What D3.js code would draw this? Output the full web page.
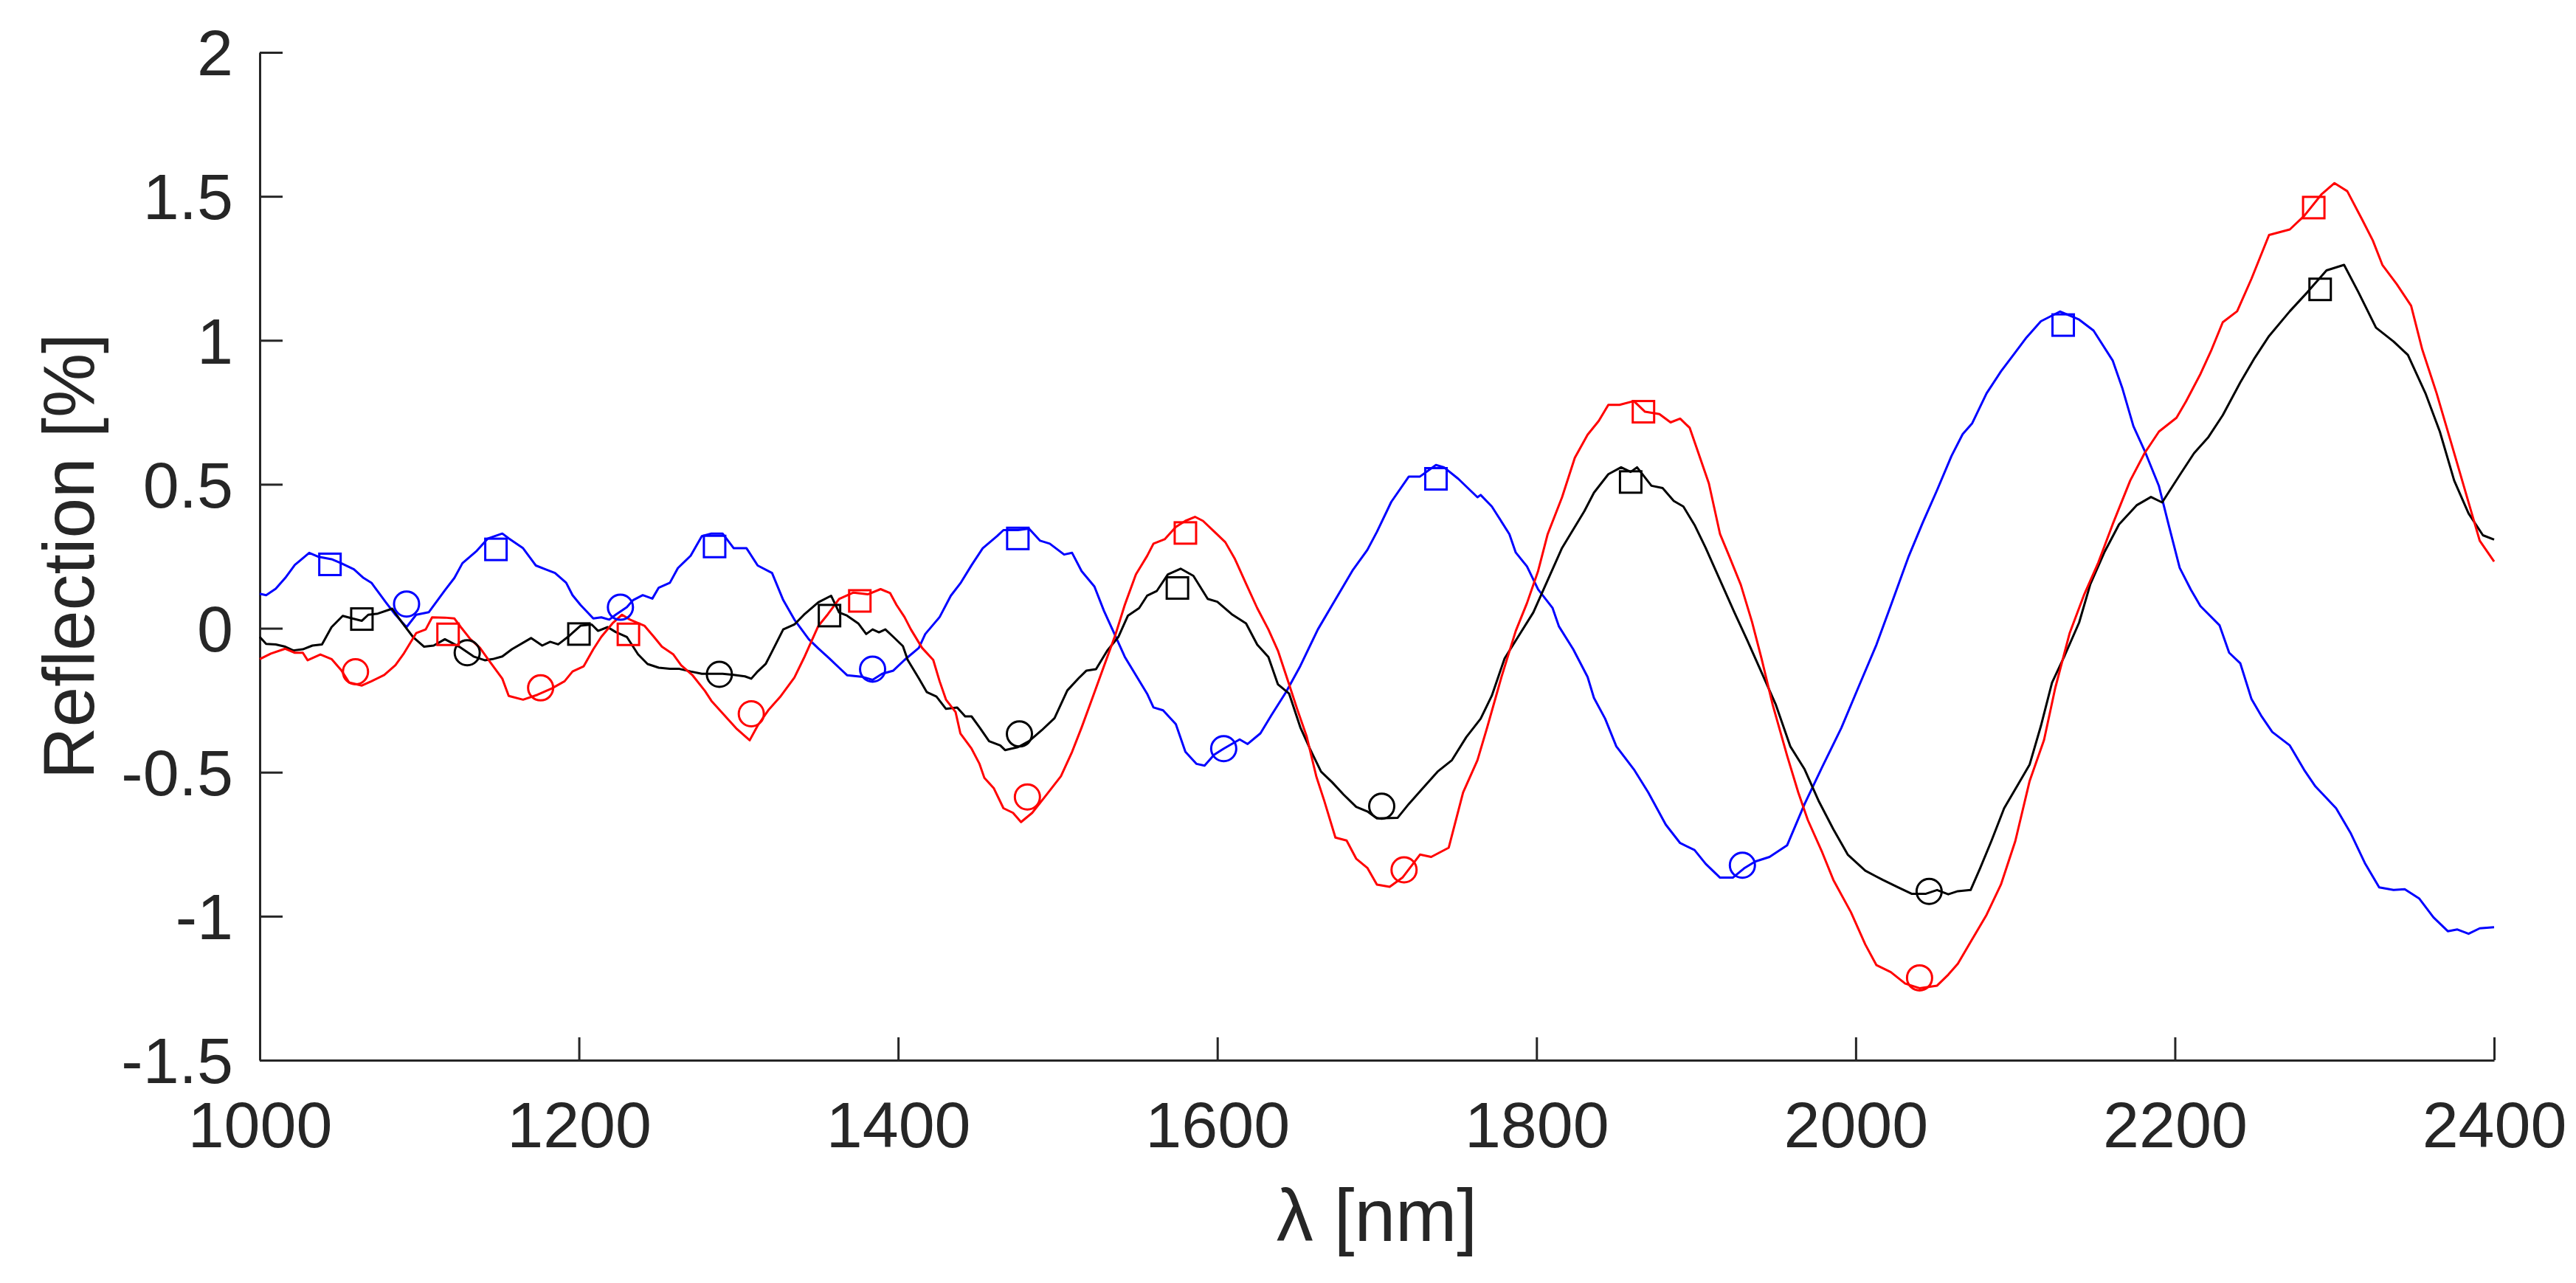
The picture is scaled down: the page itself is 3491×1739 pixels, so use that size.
<!DOCTYPE html>
<html>
<head>
<meta charset="utf-8">
<script src="https://cdn.jsdelivr.net/npm/d3@7"></script>
<style>
  html, body { margin: 0; padding: 0; background: #fff; }
  text { font-family: "Liberation Sans", Arial, sans-serif; fill: #262626; }
</style>
</head>
<body>
<script>
// tick values
var xTicks = [1000, 1200, 1400, 1600, 1800, 2000, 2200, 2400];
var yTicks = [-1.5, -1, -0.5, 0, 0.5, 1, 1.5, 2];

// curves: [wavelength nm, reflection %]
var blueLine = [[1000,0.12],[1004,0.115],[1010,0.137],[1016,0.175],[1022,0.22],[1031,0.262],[1037,0.248],[1045,0.24],[1051,0.226],[1059,0.205],[1065,0.175],[1070,0.158],[1075,0.12],[1079,0.09],[1085,0.047],[1092,0.004],[1098,0.047],[1106,0.056],[1116,0.132],[1122,0.175],[1127,0.226],[1136,0.269],[1143,0.312],[1152,0.329],[1156,0.312],[1165,0.278],[1173,0.218],[1179,0.205],[1185,0.192],[1192,0.158],[1196,0.115],[1201,0.081],[1209,0.034],[1214,0.038],[1219,0.03],[1223,0.047],[1230,0.073],[1234,0.098],[1240,0.115],[1246,0.103],[1250,0.141],[1257,0.158],[1262,0.209],[1270,0.252],[1277,0.32],[1283,0.329],[1290,0.329],[1297,0.278],[1305,0.278],[1312,0.218],[1321,0.192],[1328,0.098],[1335,0.03],[1344,-0.038],[1350,-0.07],[1357,-0.105],[1363,-0.137],[1368,-0.163],[1377,-0.168],[1384,-0.179],[1390,-0.158],[1397,-0.147],[1404,-0.11],[1413,-0.068],[1417,-0.02],[1426,0.039],[1433,0.113],[1439,0.156],[1446,0.219],[1453,0.278],[1462,0.32],[1466,0.341],[1475,0.341],[1482,0.346],[1489,0.304],[1495,0.294],[1504,0.256],[1509,0.262],[1515,0.198],[1523,0.145],[1529,0.06],[1536,-0.025],[1542,-0.099],[1549,-0.163],[1556,-0.227],[1560,-0.275],[1566,-0.285],[1574,-0.333],[1580,-0.429],[1587,-0.471],[1592,-0.477],[1598,-0.439],[1604,-0.418],[1614,-0.386],[1619,-0.402],[1627,-0.365],[1634,-0.301],[1643,-0.222],[1652,-0.131],[1663,-0.004],[1672,0.081],[1685,0.203],[1694,0.272],[1700,0.335],[1709,0.439],[1720,0.527],[1727,0.527],[1737,0.567],[1742,0.559],[1751,0.519],[1763,0.455],[1765,0.463],[1772,0.423],[1783,0.327],[1787,0.263],[1794,0.215],[1801,0.135],[1810,0.071],[1814,0.007],[1823,-0.073],[1832,-0.169],[1836,-0.242],[1843,-0.314],[1850,-0.41],[1861,-0.49],[1870,-0.57],[1881,-0.682],[1890,-0.746],[1899,-0.77],[1906,-0.818],[1915,-0.866],[1923,-0.866],[1930,-0.834],[1937,-0.81],[1946,-0.794],[1957,-0.754],[1968,-0.61],[1979,-0.482],[1991,-0.346],[2002,-0.201],[2013,-0.057],[2022,0.079],[2033,0.247],[2042,0.367],[2051,0.48],[2060,0.598],[2067,0.674],[2073,0.712],[2082,0.816],[2091,0.892],[2100,0.958],[2107,1.01],[2116,1.066],[2128,1.1],[2140,1.072],[2149,1.034],[2161,0.93],[2167,0.835],[2174,0.702],[2181,0.617],[2190,0.494],[2196,0.361],[2203,0.21],[2210,0.134],[2216,0.077],[2228,0.01],[2234,-0.085],[2241,-0.122],[2248,-0.246],[2254,-0.303],[2261,-0.36],[2272,-0.407],[2281,-0.492],[2288,-0.549],[2301,-0.625],[2310,-0.71],[2319,-0.815],[2328,-0.9],[2337,-0.909],[2344,-0.906],[2353,-0.938],[2362,-1.004],[2371,-1.052],[2377,-1.046],[2384,-1.061],[2391,-1.042],[2400,-1.038]];

var redLine = [[1000,-0.107],[1007,-0.088],[1016,-0.071],[1022,-0.085],[1027,-0.085],[1030,-0.111],[1038,-0.091],[1045,-0.107],[1051,-0.145],[1056,-0.188],[1064,-0.199],[1070,-0.184],[1078,-0.162],[1085,-0.128],[1090,-0.09],[1098,-0.017],[1104,-0.004],[1108,0.038],[1116,0.037],[1122,0.034],[1126,0.004],[1132,-0.038],[1138,-0.068],[1143,-0.107],[1152,-0.175],[1156,-0.235],[1165,-0.248],[1174,-0.231],[1183,-0.209],[1191,-0.184],[1196,-0.15],[1203,-0.132],[1209,-0.073],[1214,-0.03],[1221,0.017],[1227,0.047],[1232,0.03],[1241,0.009],[1247,-0.03],[1252,-0.064],[1259,-0.09],[1264,-0.128],[1271,-0.162],[1279,-0.218],[1283,-0.252],[1290,-0.295],[1299,-0.35],[1307,-0.389],[1312,-0.338],[1319,-0.282],[1326,-0.239],[1335,-0.171],[1341,-0.103],[1350,0.008],[1356,0.049],[1363,0.102],[1372,0.124],[1381,0.118],[1389,0.136],[1395,0.122],[1399,0.081],[1404,0.039],[1408,-0.004],[1415,-0.068],[1422,-0.11],[1426,-0.184],[1430,-0.248],[1436,-0.291],[1439,-0.365],[1446,-0.418],[1451,-0.471],[1454,-0.519],[1460,-0.556],[1466,-0.625],[1472,-0.641],[1477,-0.673],[1484,-0.641],[1493,-0.578],[1502,-0.514],[1509,-0.429],[1515,-0.344],[1522,-0.238],[1529,-0.131],[1536,-0.025],[1542,0.081],[1549,0.187],[1556,0.251],[1560,0.294],[1567,0.309],[1574,0.352],[1580,0.373],[1586,0.387],[1591,0.373],[1598,0.336],[1605,0.299],[1611,0.241],[1618,0.155],[1625,0.07],[1632,-0.004],[1638,-0.078],[1645,-0.195],[1650,-0.28],[1656,-0.376],[1662,-0.514],[1667,-0.599],[1674,-0.727],[1681,-0.737],[1687,-0.8],[1694,-0.832],[1700,-0.89],[1708,-0.898],[1716,-0.866],[1727,-0.786],[1734,-0.794],[1745,-0.762],[1754,-0.57],[1763,-0.458],[1769,-0.346],[1778,-0.17],[1787,-0.009],[1794,0.087],[1801,0.199],[1807,0.327],[1816,0.455],[1824,0.592],[1832,0.672],[1839,0.72],[1845,0.776],[1852,0.776],[1861,0.789],[1868,0.752],[1877,0.744],[1884,0.715],[1890,0.728],[1896,0.696],[1901,0.616],[1908,0.503],[1915,0.327],[1921,0.247],[1928,0.151],[1935,0.023],[1941,-0.105],[1948,-0.266],[1957,-0.442],[1964,-0.57],[1970,-0.666],[1979,-0.778],[1986,-0.874],[1997,-0.986],[2006,-1.098],[2013,-1.17],[2022,-1.194],[2031,-1.234],[2040,-1.25],[2051,-1.241],[2058,-1.203],[2064,-1.165],[2073,-1.08],[2082,-0.995],[2091,-0.89],[2100,-0.739],[2109,-0.53],[2118,-0.388],[2125,-0.208],[2134,-0.018],[2143,0.115],[2152,0.228],[2161,0.361],[2172,0.513],[2181,0.608],[2190,0.683],[2201,0.731],[2207,0.788],[2216,0.883],[2223,0.968],[2230,1.063],[2239,1.101],[2248,1.214],[2259,1.366],[2272,1.385],[2281,1.432],[2292,1.508],[2300,1.546],[2308,1.518],[2317,1.423],[2324,1.347],[2330,1.262],[2339,1.195],[2348,1.12],[2355,0.968],[2364,0.816],[2373,0.646],[2382,0.475],[2391,0.304],[2400,0.232]];

var blackLine = [[1000,-0.03],[1004,-0.054],[1010,-0.056],[1016,-0.064],[1021,-0.077],[1027,-0.073],[1033,-0.06],[1039,-0.056],[1045,0.004],[1052,0.043],[1058,0.034],[1064,0.026],[1068,0.047],[1074,0.051],[1083,0.068],[1089,0.021],[1096,-0.03],[1103,-0.064],[1109,-0.06],[1116,-0.038],[1125,-0.064],[1134,-0.098],[1141,-0.111],[1146,-0.107],[1152,-0.098],[1158,-0.073],[1170,-0.034],[1177,-0.06],[1182,-0.047],[1187,-0.056],[1194,-0.026],[1201,0.009],[1208,0.013],[1212,-0.009],[1218,0.004],[1223,-0.013],[1230,-0.03],[1237,-0.09],[1243,-0.124],[1250,-0.137],[1257,-0.141],[1263,-0.141],[1270,-0.15],[1277,-0.158],[1283,-0.158],[1290,-0.158],[1297,-0.162],[1304,-0.167],[1308,-0.175],[1312,-0.15],[1317,-0.124],[1321,-0.081],[1328,-0.004],[1335,0.013],[1341,0.047],[1350,0.09],[1358,0.113],[1363,0.055],[1368,0.044],[1375,0.017],[1380,-0.02],[1384,-0.004],[1388,-0.014],[1392,-0.004],[1397,-0.03],[1403,-0.062],[1406,-0.11],[1413,-0.174],[1418,-0.222],[1424,-0.237],[1430,-0.28],[1437,-0.275],[1442,-0.306],[1446,-0.306],[1451,-0.344],[1457,-0.392],[1464,-0.407],[1467,-0.423],[1475,-0.413],[1482,-0.392],[1490,-0.354],[1498,-0.312],[1506,-0.216],[1513,-0.174],[1518,-0.147],[1524,-0.142],[1531,-0.078],[1538,-0.03],[1544,0.044],[1551,0.07],[1556,0.113],[1562,0.129],[1569,0.187],[1577,0.207],[1585,0.182],[1594,0.102],[1600,0.092],[1609,0.049],[1618,0.017],[1625,-0.057],[1632,-0.1],[1638,-0.195],[1645,-0.227],[1652,-0.344],[1658,-0.418],[1665,-0.498],[1672,-0.535],[1679,-0.577],[1687,-0.62],[1694,-0.636],[1700,-0.66],[1713,-0.658],[1720,-0.61],[1729,-0.554],[1738,-0.498],[1747,-0.458],[1756,-0.378],[1765,-0.314],[1772,-0.234],[1780,-0.105],[1789,-0.025],[1798,0.055],[1807,0.167],[1816,0.279],[1823,0.343],[1830,0.407],[1836,0.471],[1845,0.535],[1853,0.559],[1859,0.543],[1863,0.559],[1872,0.495],[1879,0.487],[1886,0.442],[1892,0.423],[1899,0.359],[1906,0.279],[1915,0.167],[1924,0.055],[1932,-0.041],[1941,-0.153],[1950,-0.266],[1959,-0.41],[1968,-0.49],[1977,-0.602],[1986,-0.698],[1995,-0.786],[2006,-0.842],[2017,-0.874],[2026,-0.898],[2035,-0.922],[2044,-0.922],[2051,-0.909],[2058,-0.924],[2064,-0.913],[2072,-0.909],[2078,-0.833],[2085,-0.739],[2093,-0.625],[2102,-0.54],[2109,-0.473],[2116,-0.34],[2123,-0.189],[2131,-0.094],[2140,0.02],[2147,0.153],[2156,0.266],[2165,0.361],[2176,0.427],[2185,0.456],[2192,0.437],[2203,0.532],[2212,0.608],[2221,0.664],[2230,0.74],[2241,0.854],[2250,0.939],[2259,1.015],[2272,1.101],[2283,1.167],[2295,1.243],[2306,1.262],[2315,1.167],[2326,1.044],[2337,0.996],[2346,0.949],[2357,0.816],[2366,0.683],[2375,0.513],[2384,0.399],[2393,0.323],[2400,0.308]];

// marker points
var blueSquares  = [[1044,0.222],[1148,0.274],[1285,0.284],[1475,0.312],[1737,0.519],[2130,1.053]];
var blueCircles  = [[1092,0.084],[1226,0.073],[1384,-0.142],[1604,-0.418],[1929,-0.823]];
var redSquares   = [[1118,-0.021],[1231,-0.021],[1376,0.095],[1580,0.331],[1867,0.752],[2287,1.461]];
var redCircles   = [[1060,-0.151],[1176,-0.207],[1308,-0.297],[1481,-0.586],[1717,-0.839],[2040,-1.214]];
var blackSquares = [[1064,0.032],[1200,-0.02],[1357,0.044],[1575,0.14],[1859,0.508],[2291,1.177]];
var blackCircles = [[1130,-0.085],[1288,-0.16],[1476,-0.367],[1703,-0.618],[2046,-0.914]];

var svgWidth = 3491;
var svgHeight = 1739;

var margin = { top: 71, right: 111, bottom: 302, left: 352 };
var chartwidth = svgWidth - margin.left - margin.right;
var chartheight = svgHeight - margin.top - margin.bottom;

var svg = d3.select("body")
  .append("svg")
  .attr("width", svgWidth)
  .attr("height", svgHeight);

var chartGroup = svg.append("g")
  .attr("transform", `translate(${margin.left}, ${margin.top})`);

var x = d3.scaleLinear().domain([1000, 2400]).range([0, chartwidth]);
var y = d3.scaleLinear().domain([-1.5, 2]).range([chartheight, 0]);

var axisColor = "#262626";

// x axis, ticks pointing inward
var xAxis = chartGroup.append("g")
  .attr("transform", `translate(0, ${chartheight})`)
  .call(d3.axisBottom(x).tickValues(xTicks).tickSizeInner(-31).tickSizeOuter(0).tickFormat(d => String(d)));
xAxis.selectAll("text")
  .attr("y", 118).attr("dy", null)
  .style("font-size", "88px");

// y axis
var yAxis = chartGroup.append("g")
  .call(d3.axisLeft(y).tickValues(yTicks).tickSizeInner(-31).tickSizeOuter(0).tickPadding(36).tickFormat(d => String(d)));
yAxis.selectAll("text")
  .attr("dy", "0.35em")
  .style("font-size", "88px");

[xAxis, yAxis].forEach(function (a) {
  a.select(".domain").attr("stroke", axisColor).attr("stroke-width", 3);
  a.selectAll(".tick line").attr("stroke", axisColor).attr("stroke-width", 3);
  a.selectAll("text").attr("fill", axisColor).attr("font-family", "Liberation Sans, Arial, sans-serif");
});

// curves
var line = d3.line()
  .x(d => x(d[0]))
  .y(d => y(d[1]));

var series = [
  { data: blueLine, color: "#0000ff", squares: blueSquares, circles: blueCircles },
  { data: blackLine, color: "#000000", squares: blackSquares, circles: blackCircles },
  { data: redLine, color: "#ff0000", squares: redSquares, circles: redCircles }
];

series.forEach(function (s) {
  chartGroup.append("path")
    .datum(s.data)
    .attr("fill", "none")
    .attr("stroke", s.color)
    .attr("stroke-width", 3)
    .attr("stroke-linejoin", "round")
    .attr("d", line);
});

// markers
var sq = 29;
series.forEach(function (s) {
  chartGroup.append("g")
    .selectAll("rect")
    .data(s.squares)
    .enter()
    .append("rect")
      .attr("x", d => x(d[0]) - sq / 2)
      .attr("y", d => y(d[1]) - sq / 2)
      .attr("width", sq)
      .attr("height", sq)
      .attr("fill", "none")
      .attr("stroke", s.color)
      .attr("stroke-width", 3);

  chartGroup.append("g")
    .selectAll("circle")
    .data(s.circles)
    .enter()
    .append("circle")
      .attr("cx", d => x(d[0]))
      .attr("cy", d => y(d[1]))
      .attr("r", 17)
      .attr("fill", "none")
      .attr("stroke", s.color)
      .attr("stroke-width", 3);
});

// axis titles
svg.append("text")
  .attr("x", margin.left + chartwidth / 2)
  .attr("y", 1682)
  .attr("text-anchor", "middle")
  .style("font-size", "100px")
  .text("λ [nm]");

svg.append("text")
  .attr("transform", `translate(127, ${margin.top + chartheight / 2}) rotate(-90)`)
  .attr("text-anchor", "middle")
  .style("font-size", "98px")
  .text("Reflection [%]");
</script>
</body>
</html>
